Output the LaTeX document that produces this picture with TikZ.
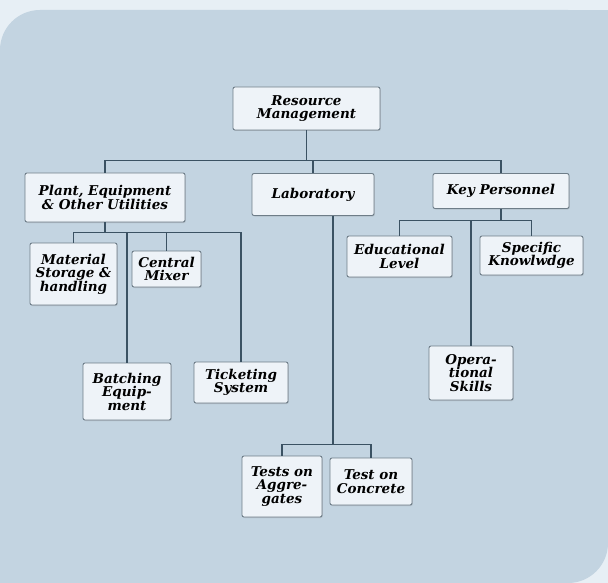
\documentclass[tikz,border=0pt]{standalone}
\usepackage{fontspec}
\setmainfont{DejaVu Serif}
\usepackage{tikz}
\usetikzlibrary{positioning,shadows}
\definecolor{pagebg}{HTML}{E7EFF5}
\definecolor{panelbg}{HTML}{C3D4E1}
\definecolor{boxfill}{HTML}{EEF3F8}
\definecolor{boxline}{HTML}{6E7D88}
\definecolor{linkline}{HTML}{3B5263}

\begin{document}
\begin{tikzpicture}[
  x=1pt, y=-1pt,
  font=\fontsize{13.5}{13.5}\selectfont\bfseries\itshape,
  box/.style={rectangle, draw=boxline, fill=boxfill, rounded corners=2pt, align=center, inner sep=1pt, line width=0.9pt,
    drop shadow={opacity=0.25, shadow xshift=0.8pt, shadow yshift=-1pt}},
  link/.style={draw=linkline, line width=1.8pt}
]
% Page and panel
\useasboundingbox (0,0) rectangle (608,583);
\fill[pagebg] (0,0) rectangle (608,583);
\fill[panelbg, rounded corners=40pt] (0,10) rectangle (608,583);
\fill[panelbg] (568,10) rectangle (608,50);
\fill[panelbg] (0,543) rectangle (40,583);
% Root and the three groups
\node[box, minimum width=147, minimum height=43] (rm) at (306.5,108.5) {Resource\\Management};
\node[box, minimum width=160, minimum height=49] (plant) at (105,197.5) {Plant, Equipment\\\& Other Utilities};
\node[box, minimum width=122, minimum height=42] (lab) at (313,194.5) {Laboratory};
\node[box, minimum width=136, minimum height=35] (key) at (501,191) {Key Personnel};
% Plant, equipment and utilities
\node[box, minimum width=87, minimum height=62] (mat) at (73.5,274) {Material\\Storage \&\\handling};
\node[box, minimum width=69, minimum height=36] (mix) at (166.5,269) {Central\\Mixer};
\node[box, minimum width=88, minimum height=57] (batch) at (127,391.5) {Batching\\Equip-\\ment};
\node[box, minimum width=94, minimum height=41] (tick) at (241,382.5) {Ticketing\\System};
% Key personnel
\node[box, minimum width=105, minimum height=41] (edu) at (399.5,256.5) {Educational\\Level};
\node[box, minimum width=103, minimum height=39] (spec) at (531.5,255.5) {Specific\\Knowlwdge};
\node[box, minimum width=84, minimum height=54] (oper) at (471,373) {Opera-\\tional\\Skills};
% Laboratory tests
\node[box, minimum width=80, minimum height=61] (agg) at (282,486.5) {Tests on\\Aggre-\\gates};
\node[box, minimum width=82, minimum height=47] (conc) at (371,481.5) {Test on\\Concrete};
% Connectors
\draw[link] (rm.south) -- ++(0,30) coordinate (top);
\draw[link] (top) -| (plant.north);
\draw[link] (top) -| (lab.north);
\draw[link] (top) -| (key.north);
\draw[link] (plant.south) -- ++(0,10) coordinate (pbus);
\draw[link] (pbus) -| (mat.north);
\draw[link] (pbus) -| (batch.north);
\draw[link] (pbus) -| (mix.north);
\draw[link] (pbus) -| (tick.north);
\draw[link] (key.south) -- ++(0,11.5) coordinate (kbus);
\draw[link] (kbus) -| (edu.north);
\draw[link] (kbus) -| (oper.north);
\draw[link] (kbus) -| (spec.north);
\draw[link] ([xshift=20pt]lab.south) -- ++(0,228.5) coordinate (lbus);
\draw[link] (lbus) -| (agg.north);
\draw[link] (lbus) -| (conc.north);
\end{tikzpicture}
\end{document}
